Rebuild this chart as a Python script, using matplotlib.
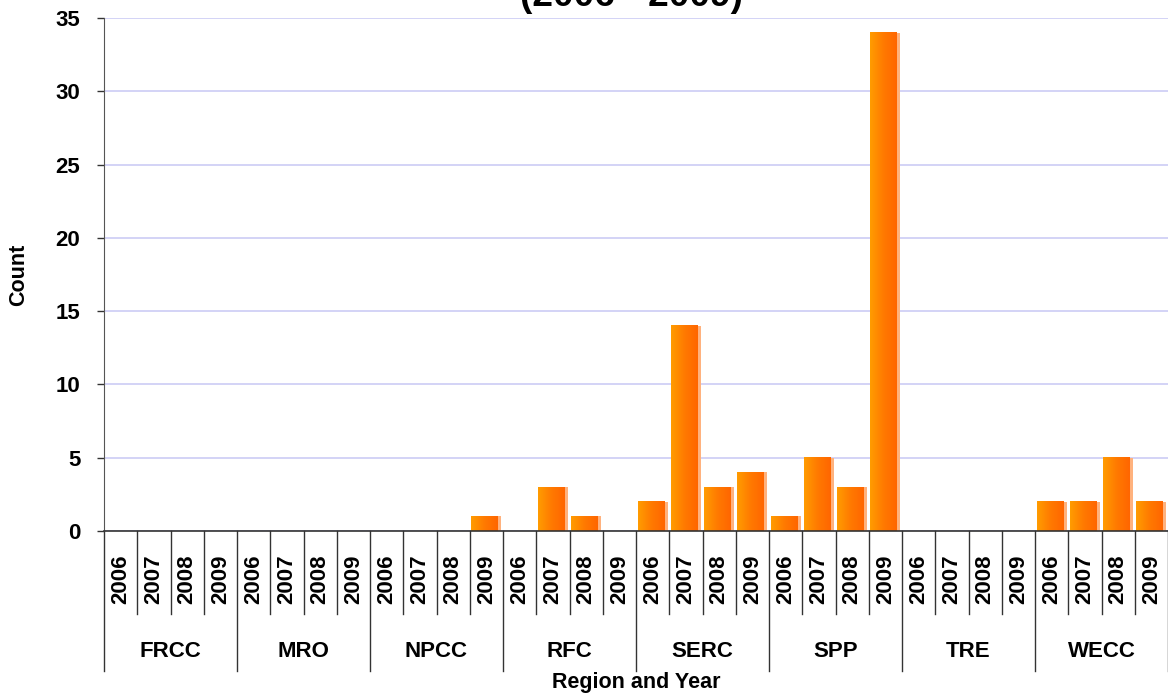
import numpy as np
import matplotlib as mpl
import matplotlib.pyplot as plt
from matplotlib.colors import LinearSegmentedColormap

mpl.rcParams["font.family"] = ["Liberation Sans", "DejaVu Sans"]
mpl.rcParams["font.weight"] = "bold"

REGIONS = ["FRCC", "MRO", "NPCC", "RFC", "SERC", "SPP", "TRE", "WECC"]
YEARS = ["2006", "2007", "2008", "2009"]
COUNTS = {
    "FRCC": [0, 0, 0, 0],
    "MRO": [0, 0, 0, 0],
    "NPCC": [0, 0, 0, 1],
    "RFC": [0, 3, 1, 0],
    "SERC": [2, 14, 3, 4],
    "SPP": [1, 5, 3, 34],
    "TRE": [0, 0, 0, 0],
    "WECC": [2, 2, 5, 2],
}
TITLE = "(2006 - 2009)"

values = [v for r in REGIONS for v in COUNTS[r]]
labels = [y for r in REGIONS for y in YEARS]
x = np.arange(len(values))

fig = plt.figure(figsize=(11.68, 6.96), dpi=100)
ax = fig.add_axes([104 / 1168, 1 - 531 / 696, 1 - 104 / 1168, 513 / 696])

# light strip behind (right edge highlight), then gradient face on top
bars = ax.bar(x, values, width=0.9, color="#FFB27E", zorder=2)
cmap = LinearSegmentedColormap.from_list("orange", ["#FF9C00", "#FF7A00", "#FF6600"])
grad = np.linspace(0, 1, 64).reshape(1, -1)
for b in bars:
    h = b.get_height()
    if h <= 0:
        continue
    x0 = b.get_x()
    w = b.get_width()
    ax.imshow(grad, extent=(x0, x0 + w * 0.89, 0, h), aspect="auto",
              cmap=cmap, zorder=3, interpolation="bilinear")

ax.set_xlim(-0.5, len(values) - 0.5)
ax.set_ylim(0, 35)
ax.set_yticks(range(0, 36, 5))
ax.grid(True, axis="y", color="#CCCCF5", linewidth=1.2, zorder=0)
ax.set_axisbelow(True)

for s in ["top", "right"]:
    ax.spines[s].set_visible(False)
ax.spines["left"].set_color("#555555")
ax.spines["bottom"].set_color("#333333")
ax.spines["bottom"].set_linewidth(1.2)
ax.spines["bottom"].set_zorder(5)

ax.tick_params(axis="y", length=5, width=1, color="#333333", pad=12, labelsize=16)
ax.set_xticks(x)
ax.set_xticklabels(labels, rotation=90, fontsize=16, fontweight="bold")
ax.tick_params(axis="x", length=0, pad=17)
for t in ax.get_yticklabels():
    t.set_fontweight("bold")

trans = ax.get_xaxis_transform()
# year separators and region separators
for i in range(len(values) + 1):
    xb = i - 0.5
    if i % 4 == 0:
        ax.plot([xb, xb], [0, -0.273], transform=trans, color="#333333",
                linewidth=1, clip_on=False)
    else:
        ax.plot([xb, xb], [0, -0.162], transform=trans, color="#333333",
                linewidth=1, clip_on=False)

for k, r in enumerate(REGIONS):
    ax.text(4 * k + 1.5, -0.234, r, transform=trans, ha="center", va="center",
            fontsize=16, fontweight="bold")

ax.text(0.5, -0.296, "Region and Year", transform=ax.transAxes, ha="center",
        va="center", fontsize=15.5, fontweight="bold")
fig.text(19 / 1168, 1 - 275 / 696, "Count", rotation=90, ha="center", va="center",
         fontsize=15.5, fontweight="bold")
fig.text(631 / 1168, 1 - 6 / 696, TITLE, ha="center", va="baseline",
         fontsize=26.7, fontweight="bold")

fig.savefig("out.png", dpi=100)
